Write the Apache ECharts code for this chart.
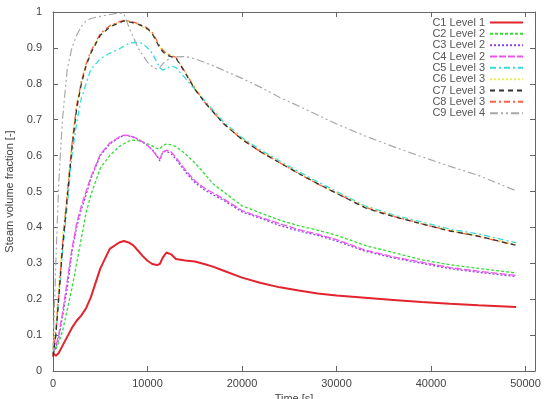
<!DOCTYPE html>
<html>
<head>
<meta charset="utf-8">
<script src="https://cdn.jsdelivr.net/npm/echarts@6/dist/echarts.min.js"></script>
<style>
  html, body { margin: 0; padding: 0; background: #fff; }
  #chart { width: 544px; height: 399px; }
</style>
</head>
<body>
<div id="chart"></div>
<script>
// time points [s]
var time = [0, 300, 600, 1000, 1500, 2000, 2500, 3000, 3500, 4000, 5000, 6000, 7000, 7500, 8000, 8500, 9000, 9500,
    10000, 10500, 11000, 11300, 11600, 12000, 12500, 13000, 14000, 15000, 16000, 17000, 18000, 20000, 22000,
    24000, 26000, 28000, 30000, 33000, 36000, 39000, 42000, 45000, 49000];

var c1 = [0.05, 0.042, 0.05, 0.07, 0.095, 0.12, 0.14, 0.155, 0.175, 0.205, 0.285, 0.34, 0.358, 0.362, 0.358, 0.35, 0.335, 0.32,
    0.307, 0.298, 0.295, 0.298, 0.315, 0.33, 0.325, 0.312, 0.308, 0.305, 0.298, 0.29, 0.28, 0.26, 0.245,
    0.233, 0.224, 0.216, 0.21, 0.204, 0.198, 0.192, 0.187, 0.183, 0.178];
var c2 = [0.05, 0.06, 0.08, 0.11, 0.17, 0.23, 0.3, 0.37, 0.44, 0.49, 0.565, 0.6, 0.625, 0.633, 0.64, 0.643, 0.642, 0.638,
    0.633, 0.627, 0.62, 0.618, 0.628, 0.632, 0.63, 0.625, 0.605, 0.58, 0.55, 0.52, 0.5, 0.46, 0.44,
    0.42, 0.405, 0.392, 0.378, 0.35, 0.33, 0.31, 0.296, 0.286, 0.273];
var c3 = [0.05, 0.065, 0.09, 0.15, 0.23, 0.33, 0.4, 0.45, 0.49, 0.535, 0.6, 0.632, 0.65, 0.656, 0.655, 0.651, 0.645, 0.637,
    0.628, 0.617, 0.6, 0.585, 0.61, 0.612, 0.605, 0.59, 0.555, 0.525, 0.505, 0.49, 0.476, 0.443, 0.425,
    0.405, 0.39, 0.378, 0.362, 0.334, 0.315, 0.3, 0.285, 0.275, 0.263];
var c4 = [0.05, 0.07, 0.1, 0.16, 0.25, 0.34, 0.41, 0.46, 0.5, 0.54, 0.603, 0.635, 0.652, 0.657, 0.656, 0.652, 0.646, 0.638,
    0.628, 0.615, 0.598, 0.59, 0.61, 0.615, 0.61, 0.595, 0.56, 0.53, 0.51, 0.495, 0.48, 0.447, 0.428,
    0.41, 0.394, 0.381, 0.366, 0.337, 0.318, 0.303, 0.288, 0.278, 0.266];
var c5 = [0.05, 0.1, 0.2, 0.33, 0.46, 0.6, 0.69, 0.76, 0.8, 0.84, 0.87, 0.885, 0.897, 0.905, 0.912, 0.915, 0.915, 0.912,
    0.9, 0.885, 0.86, 0.845, 0.838, 0.842, 0.85, 0.845, 0.815, 0.785, 0.755, 0.725, 0.695, 0.65, 0.615,
    0.585, 0.555, 0.527, 0.5, 0.46, 0.435, 0.415, 0.395, 0.382, 0.357];
var c6 = [0.06, 0.13, 0.24, 0.37, 0.5, 0.64, 0.74, 0.81, 0.855, 0.89, 0.937, 0.96, 0.972, 0.976, 0.974, 0.97, 0.965, 0.958,
    0.95, 0.938, 0.915, 0.902, 0.892, 0.883, 0.878, 0.873, 0.833, 0.79, 0.752, 0.722, 0.692, 0.647, 0.612,
    0.582, 0.552, 0.522, 0.497, 0.458, 0.432, 0.412, 0.392, 0.377, 0.352];
var c7 = [0.04, 0.1, 0.2, 0.34, 0.48, 0.62, 0.73, 0.8, 0.85, 0.885, 0.935, 0.958, 0.97, 0.975, 0.973, 0.97, 0.966, 0.96,
    0.953, 0.94, 0.915, 0.9, 0.89, 0.88, 0.876, 0.872, 0.83, 0.785, 0.75, 0.72, 0.69, 0.645, 0.61,
    0.58, 0.55, 0.522, 0.495, 0.455, 0.43, 0.41, 0.39, 0.376, 0.35];
var c8 = [0.04, 0.11, 0.21, 0.35, 0.49, 0.63, 0.74, 0.805, 0.855, 0.89, 0.94, 0.962, 0.973, 0.977, 0.975, 0.972, 0.968, 0.962,
    0.955, 0.943, 0.92, 0.905, 0.895, 0.885, 0.879, 0.874, 0.832, 0.788, 0.75, 0.72, 0.69, 0.645, 0.61,
    0.58, 0.55, 0.521, 0.495, 0.456, 0.431, 0.41, 0.39, 0.375, 0.35];
var c9 = [0.06, 0.3, 0.52, 0.7, 0.84, 0.9, 0.935, 0.96, 0.975, 0.982, 0.988, 0.993, 0.997, 0.995, 0.96, 0.93, 0.9, 0.88,
    0.86, 0.848, 0.84, 0.845, 0.855, 0.865, 0.872, 0.875, 0.876, 0.87, 0.86, 0.85, 0.838, 0.815, 0.79,
    0.762, 0.738, 0.713, 0.688, 0.655, 0.625, 0.597, 0.57, 0.545, 0.502];

var names = ['C1 Level 1', 'C2 Level 2', 'C3 Level 2', 'C4 Level 2', 'C5 Level 3', 'C6 Level 3', 'C7 Level 3', 'C8 Level 3', 'C9 Level 4'];
var values = [c1, c2, c3, c4, c5, c6, c7, c8, c9];
var colors = ['#e3232d', '#33dd33', '#8a45e6', '#ee55ee', '#33dddd', '#eeee55', '#333333', '#ff6048', '#a8a8a8'];
var dashes = ['solid', [3, 2], [2, 2], [7, 2], [6, 3, 2, 3], [2, 2], [5, 4], [6, 3, 2, 3], [8, 3, 2, 3, 2, 3]];
var widths = [2, 1.3, 1.3, 1.3, 1.3, 1.3, 1.3, 1.3, 1.2];
var layers = [3, 2, 2, 2, 2, 2, 4, 2, 2];

var xTicks = [0, 10000, 20000, 30000, 40000, 50000];
var yTicks = [0, 0.1, 0.2, 0.3, 0.4, 0.5, 0.6, 0.7, 0.8, 0.9, 1];

var font = 'Liberation Sans, Arial, sans-serif';
var gray = '#666';

function pairs(v) {
    return time.map(function (t, i) { return [t, v[i]]; });
}

var series = names.map(function (n, i) {
    return {
        name: n,
        type: 'line',
        xAxisIndex: 0,
        yAxisIndex: 0,
        symbol: 'none',
        showSymbol: false,
        smooth: false,
        data: pairs(values[i]),
        lineStyle: { color: colors[i], width: widths[i], type: dashes[i] },
        itemStyle: { color: colors[i] },
        z: layers[i]
    };
});

function xAx(pos, labels) {
    return {
        type: 'value', position: pos, min: 0, max: 51000, interval: xTicks[1] - xTicks[0],
        name: labels ? 'Time [s]' : '', nameLocation: 'middle', nameGap: 22,
        nameTextStyle: { fontFamily: font, fontSize: 11, color: '#444' },
        axisLine: { show: true, onZero: false, lineStyle: { color: gray, width: 1 } },
        axisTick: { show: true, inside: true, length: 5, lineStyle: { color: gray } },
        axisLabel: {
            show: labels, showMaxLabel: false, margin: 7, fontFamily: font, fontSize: 11, color: '#444',
            formatter: function (v) { return String(v); }
        },
        splitLine: { show: false }
    };
}
function yAx(pos, labels) {
    return {
        type: 'value', position: pos, min: 0, max: 1, interval: yTicks[1] - yTicks[0],
        name: labels ? 'Steam volume fraction [-]' : '', nameLocation: 'middle', nameGap: 33,
        nameTextStyle: { fontFamily: font, fontSize: 11, color: '#444' },
        axisLine: { show: true, onZero: false, lineStyle: { color: gray, width: 1 } },
        axisTick: { show: true, inside: true, length: 5, lineStyle: { color: gray } },
        axisLabel: { show: labels, margin: 11, fontFamily: font, fontSize: 11, color: '#444' },
        splitLine: { show: false }
    };
}

var chart = echarts.init(document.getElementById('chart'));
chart.setOption({
    animation: false,
    backgroundColor: '#fff',
    grid: { left: 53, top: 12, right: 9, bottom: 28, containLabel: false, outerBoundsMode: 'none' },
    legend: {
        data: names,
        orient: 'vertical',
        right: 20,
        top: 17,
        align: 'right',
        padding: 0,
        itemGap: 0.33,
        itemWidth: 33,
        itemHeight: 8,
        itemStyle: { opacity: 0 },
        textStyle: { fontFamily: font, fontSize: 11, color: '#555', lineHeight: 11 }
    },
    xAxis: [xAx('bottom', true), xAx('top', false)],
    yAxis: [yAx('left', true), yAx('right', false)],
    series: series
});
</script>
</body>
</html>
